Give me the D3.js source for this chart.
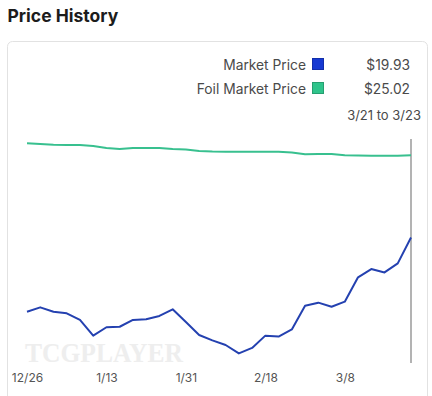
<!DOCTYPE html>
<html>
<head>
<meta charset="utf-8">
<script src="https://cdn.jsdelivr.net/npm/d3@7"></script>
<style>
  html, body { margin: 0; padding: 0; background: #fff; }
  svg { display: block; font-family: Inter, "Noto Sans", sans-serif; }
</style>
</head>
<body>
<svg id="chart" width="432" height="396"></svg>
<script>
// points every 3 days, 12/26 through 3/23
const startDate = new Date(2022, 11, 26);
const dates = d3.range(30).map(i => d3.timeDay.offset(startDate, i * 3));

const marketPrice = [
  15.34, 15.61, 15.34, 15.24, 14.83, 13.86, 14.38, 14.41, 14.83, 14.87,
  15.08, 15.49, 14.70, 13.90, 13.57, 13.28, 12.76, 13.10, 13.86, 13.80,
  14.24, 15.71, 15.90, 15.65, 15.96, 17.47, 17.98, 17.77, 18.33, 19.93
];
const foilMarketPrice = [
  25.76, 25.71, 25.67, 25.65, 25.65, 25.59, 25.47, 25.40, 25.47, 25.47,
  25.47, 25.40, 25.37, 25.28, 25.25, 25.24, 25.24, 25.24, 25.24, 25.24,
  25.19, 25.08, 25.09, 25.09, 25.02, 25.00, 24.99, 24.99, 24.99, 25.02
];
const tickDates = [0, 6, 12, 18, 24].map(i => dates[i]);
const legendLabels = ["Market Price", "Foil Market Price"];
const legendValues = ["$19.93", "$25.02"];
const rangeLabel = "3/21 to 3/23";

const colors = { market: "#2441b0", foil: "#38c08f" };
const swatchColors = ["#1639d2", "#2fc48b"];

const svg = d3.select("#chart");

// title + card
svg.append("text")
  .attr("x", 7.5).attr("y", 21.5)
  .attr("font-size", 17.5).attr("font-weight", 700)
  .attr("fill", "#1c1c1c")
  .text("Price History");

svg.append("rect")
  .attr("x", 7.5).attr("y", 41.5)
  .attr("width", 420).attr("height", 380)
  .attr("rx", 5)
  .attr("fill", "#fff").attr("stroke", "#e2e2e2");

// scales
const x = d3.scaleTime()
  .domain(d3.extent(dates))
  .range([27, 411]);
const y = d3.scaleLinear()
  .domain([12, 26])
  .range([365.7, 139.4]);

// watermark
svg.append("text")
  .attr("x", 25).attr("y", 362)
  .attr("font-family", "'Liberation Serif', 'DejaVu Serif', serif")
  .attr("font-weight", 700).attr("font-size", 28)
  .attr("textLength", 158).attr("lengthAdjust", "spacingAndGlyphs")
  .attr("fill", "#eeeeee")
  .text("TCGPLAYER");

// x axis labels
const xAxis = d3.axisBottom(x)
  .tickValues(tickDates)
  .tickFormat(d3.timeFormat("%-m/%-d"))
  .tickSize(0).tickPadding(0);
const gx = svg.append("g")
  .attr("transform", "translate(0,373)")
  .call(xAxis);
gx.select(".domain").remove();
gx.selectAll("text")
  .attr("font-family", "Inter, 'Noto Sans', sans-serif")
  .attr("font-size", 12)
  .attr("fill", "#555");

// hover line at last point
svg.append("line")
  .attr("x1", x(dates[29])).attr("x2", x(dates[29]))
  .attr("y1", 139).attr("y2", 363)
  .attr("stroke", "#9a9a9a").attr("stroke-width", 1.5);

const line = d3.line()
  .x((d, i) => x(dates[i]))
  .y(d => y(d));

svg.append("path")
  .datum(foilMarketPrice)
  .attr("d", line)
  .attr("fill", "none")
  .attr("stroke", colors.foil)
  .attr("stroke-width", 2)
  .attr("stroke-linejoin", "round");

svg.append("path")
  .datum(marketPrice)
  .attr("d", line)
  .attr("fill", "none")
  .attr("stroke", colors.market)
  .attr("stroke-width", 2)
  .attr("stroke-linejoin", "round");

// legend
const legend = svg.append("g");
legendLabels.forEach((lab, i) => {
  const yy = 70 + i * 24;
  legend.append("text")
    .attr("x", 306).attr("y", yy)
    .attr("text-anchor", "end")
    .attr("font-size", 13.8).attr("fill", "#4a4a4a")
    .text(lab);
  legend.append("rect")
    .attr("x", 312.5).attr("y", yy - 11.5)
    .attr("width", 11).attr("height", 11)
    .attr("fill", swatchColors[i])
    .attr("stroke", d3.color(swatchColors[i]).darker(0.6))
    .attr("stroke-width", 1);
  legend.append("text")
    .attr("x", 410).attr("y", yy)
    .attr("text-anchor", "end")
    .attr("font-size", 13.8).attr("fill", "#4a4a4a")
    .text(legendValues[i]);
});
legend.append("text")
  .attr("x", 421).attr("y", 119.5)
  .attr("text-anchor", "end")
  .attr("font-size", 13).attr("fill", "#4a4a4a")
  .text(rangeLabel);
</script>
</body>
</html>
